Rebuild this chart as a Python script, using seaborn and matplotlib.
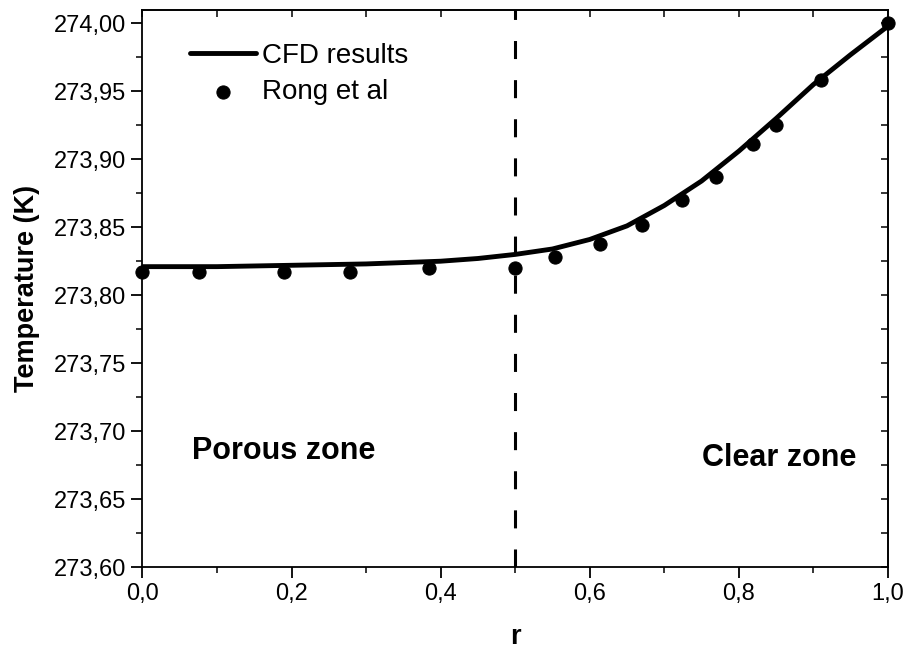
import numpy as np
import pandas as pd
import seaborn as sns
import matplotlib.pyplot as plt
from matplotlib.ticker import MultipleLocator, FuncFormatter

# CFD curve
cfd_r = [0.0, 0.1, 0.2, 0.3, 0.4, 0.45, 0.5, 0.55, 0.6, 0.65, 0.7, 0.75, 0.8, 0.85, 0.9, 0.95, 1.0]
cfd_t = [273.821, 273.821, 273.822, 273.823, 273.825, 273.827, 273.830, 273.834, 273.841,
         273.851, 273.866, 273.884, 273.906, 273.930, 273.955, 273.977, 273.998]

# reference points (Rong et al)
rong_r = [0.0, 0.076, 0.190, 0.278, 0.384, 0.5, 0.554, 0.614, 0.670, 0.724, 0.769, 0.819, 0.850, 0.910, 1.0]
rong_t = [273.817, 273.817, 273.817, 273.817, 273.820, 273.820, 273.828, 273.838, 273.852,
          273.870, 273.887, 273.911, 273.925, 273.958, 274.000]

cfd = pd.DataFrame({"r": cfd_r, "T": cfd_t})
rong = pd.DataFrame({"r": rong_r, "T": rong_t})

sns.set_theme(style="white")
plt.rcParams["font.family"] = ["Liberation Sans", "DejaVu Sans"]
plt.rcParams["text.color"] = "black"
plt.rcParams["axes.labelcolor"] = "black"

fig = plt.figure(figsize=(9.07, 6.51), dpi=100)
ax = fig.add_axes([0.157, 0.129, 0.822, 0.856])

sns.lineplot(data=cfd, x="r", y="T", color="black", lw=3.5, label="CFD results", ax=ax)
sns.scatterplot(data=rong, x="r", y="T", color="black", s=90, edgecolor="black",
                label="Rong et al", ax=ax, zorder=3, clip_on=False)

ax.axvline(0.5, color="black", lw=2.2, ls=(0, (5.9, 6.9)))

ax.set_xlim(0, 1.0)
ax.set_ylim(273.60, 274.01)

comma = FuncFormatter(lambda v, p: f"{v:.1f}".replace(".", ","))
comma2 = FuncFormatter(lambda v, p: f"{v:.2f}".replace(".", ","))
ax.xaxis.set_major_locator(MultipleLocator(0.2))
ax.xaxis.set_minor_locator(MultipleLocator(0.1))
ax.yaxis.set_major_locator(MultipleLocator(0.05))
ax.yaxis.set_minor_locator(MultipleLocator(0.025))
ax.xaxis.set_major_formatter(comma)
ax.yaxis.set_major_formatter(comma2)
ax.tick_params(which="major", direction="out", length=8, width=1.3, labelsize=17,
               bottom=True, left=True, colors="black")
ax.tick_params(which="minor", direction="out", length=4, width=1.3, bottom=True, left=True)

# inward ticks on top and right
top = ax.secondary_xaxis("top")
top.xaxis.set_major_locator(MultipleLocator(0.1))
top.tick_params(direction="in", length=5, width=1.3, labeltop=False)
right = ax.secondary_yaxis("right")
right.yaxis.set_major_locator(MultipleLocator(0.025))
right.tick_params(direction="in", length=5, width=1.3, labelright=False)

for s in ax.spines.values():
    s.set_color("black")
    s.set_linewidth(1.3)

ax.set_xlabel("r", fontsize=19.5, fontweight="bold", labelpad=14)
ax.set_ylabel("Temperature (K)", fontsize=19.5, fontweight="bold", labelpad=10)

ax.text(0.066, 273.685, "Porous zone", fontsize=22, fontweight="bold", va="center")
ax.text(0.751, 273.680, "Clear zone", fontsize=22, fontweight="bold", va="center")

ax.legend(loc="upper left", bbox_to_anchor=(0.03, 0.985), frameon=False, fontsize=20,
          handlelength=2.4, handletextpad=0.2, labelspacing=0.35)

fig.savefig("out.png", dpi=100)
